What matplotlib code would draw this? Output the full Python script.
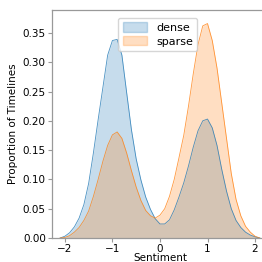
import numpy as np
import matplotlib
matplotlib.use("Agg")
import matplotlib.pyplot as plt
from matplotlib.patches import Patch

# sentiment grid and density values
sentiment = np.round(np.arange(-2.1, 2.11, 0.1), 2)
dense = [0.000, 0.003, 0.009, 0.019, 0.034, 0.057, 0.093, 0.145, 0.202, 0.257,
         0.312, 0.337, 0.339, 0.312, 0.248, 0.185, 0.135, 0.099, 0.070, 0.049,
         0.033, 0.024, 0.024, 0.031, 0.048, 0.070, 0.094, 0.123, 0.155, 0.183,
         0.200, 0.203, 0.188, 0.158, 0.117, 0.080, 0.050, 0.030, 0.018, 0.010,
         0.005, 0.002, 0.000]
sparse = [0.000, 0.001, 0.004, 0.010, 0.018, 0.030, 0.046, 0.071, 0.100, 0.131,
          0.158, 0.176, 0.181, 0.170, 0.145, 0.115, 0.087, 0.064, 0.047, 0.038,
          0.034, 0.039, 0.050, 0.071, 0.100, 0.137, 0.175, 0.225, 0.280, 0.330,
          0.362, 0.366, 0.337, 0.290, 0.230, 0.170, 0.110, 0.066, 0.038, 0.020,
          0.010, 0.003, 0.000]
series = {"dense": (dense, "tab:blue"), "sparse": (sparse, "tab:orange")}

fig = plt.figure(figsize=(2.62, 2.62), dpi=100)
ax = fig.add_axes([0.1985, 0.0916, 0.824, 0.870])

handles = []
for name, (vals, col) in series.items():
    ax.fill_between(sentiment, vals, color=col, alpha=0.25, linewidth=0)
    ax.plot(sentiment, vals, color=col, linewidth=0.6, alpha=0.8)
    handles.append(Patch(facecolor=col, alpha=0.25, edgecolor=col, label=name))

# legend patches need full-colour edges
for h in handles:
    h.set_edgecolor(h.get_facecolor()[:3])

ax.set_xlim(-2.27, 2.27)
ax.set_ylim(0, 0.389)
ax.set_xticks([-2, -1, 0, 1, 2])
ax.set_yticks(np.arange(0, 0.36, 0.05))
ax.set_yticklabels([f"{v:.2f}" for v in np.arange(0, 0.36, 0.05)])
ax.tick_params(labelsize=7.5, length=3, width=0.8, color="#999999", pad=1.5)
for s in ax.spines.values():
    s.set_color("#999999")
    s.set_linewidth(0.9)
ax.set_xlabel("Sentiment", fontsize=7.5, labelpad=-1)
ax.set_ylabel("Proportion of Timelines", fontsize=7.5, labelpad=3)
ax.legend(handles=handles, loc="upper center", bbox_to_anchor=(0.49, 0.99),
          fontsize=8, handlelength=2.2, handleheight=0.9, borderpad=0.4,
          labelspacing=0.3)

fig.savefig("out.png", dpi=100)
